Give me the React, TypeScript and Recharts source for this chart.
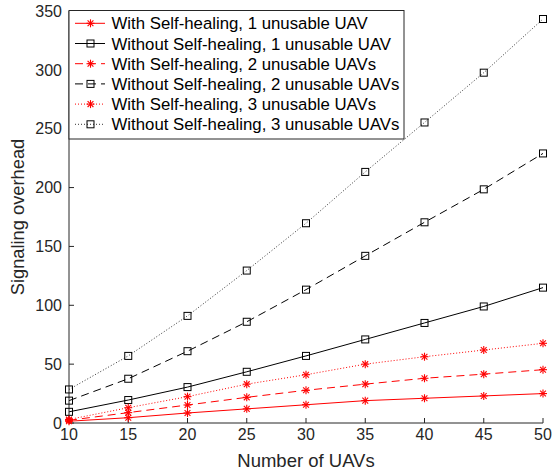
import React from "react";
import { LineChart, Line, XAxis, YAxis } from "recharts";

const uavCounts = [10, 15, 20, 25, 30, 35, 40, 45, 50];
const withHeal1 = [1.5, 4.5, 8.5, 12, 15.5, 19, 21, 23, 25];
const withoutHeal1 = [9.5, 19.5, 30.5, 43.5, 57, 71, 85, 99, 115];
const withHeal2 = [2.3, 8.8, 15.3, 21.8, 27.8, 33, 38, 41.5, 45.3];
const withoutHeal2 = [19, 37.6, 61, 86, 113.3, 142, 170.5, 198.5, 229];
const withHeal3 = [3, 13, 22.4, 33, 41, 50, 56.3, 62, 67.7];
const withoutHeal3 = [28.5, 57, 91, 129.5, 169.7, 213.3, 255.3, 297.6, 343.2];

const xTicks = [10, 15, 20, 25, 30, 35, 40, 45, 50];
const yTicks = [0, 50, 100, 150, 200, 250, 300, 350];

const data = uavCounts.map((n, i) => ({
  n,
  w1: withHeal1[i],
  wo1: withoutHeal1[i],
  w2: withHeal2[i],
  wo2: withoutHeal2[i],
  w3: withHeal3[i],
  wo3: withoutHeal3[i],
}));

const FONT = "'Liberation Sans', Arial, sans-serif";
const AXIS = "#262626";

type Kind = "star" | "square";

function Star({ cx, cy, color }: { cx: number; cy: number; color: string }) {
  const r = 4;
  const d = 2.9;
  return (
    <g stroke={color} strokeWidth={1.1}>
      <line x1={cx - r} y1={cy} x2={cx + r} y2={cy} />
      <line x1={cx} y1={cy - r} x2={cx} y2={cy + r} />
      <line x1={cx - d} y1={cy - d} x2={cx + d} y2={cy + d} />
      <line x1={cx - d} y1={cy + d} x2={cx + d} y2={cy - d} />
    </g>
  );
}

function Square({ cx, cy, color }: { cx: number; cy: number; color: string }) {
  return <rect x={cx - 3.5} y={cy - 3.5} width={7} height={7} fill="none" stroke={color} strokeWidth={1} />;
}

const makeDot = (kind: Kind, color: string) => (props: any) => {
  const { cx, cy, index } = props;
  if (cx == null || cy == null) return <g key={index} />;
  return kind === "star" ? <Star key={index} cx={cx} cy={cy} color={color} /> : <Square key={index} cx={cx} cy={cy} color={color} />;
};

const series = [
  { key: "w1", name: "With Self-healing, 1 unusable UAV", color: "#ff0000", dash: undefined, kind: "star" as Kind, width: 1 },
  { key: "wo1", name: "Without Self-healing, 1 unusable UAV", color: "#000000", dash: undefined, kind: "square" as Kind, width: 1 },
  { key: "w2", name: "With Self-healing, 2 unusable UAVs", color: "#ff0000", dash: "8 5", kind: "star" as Kind, width: 1 },
  { key: "wo2", name: "Without Self-healing, 2 unusable UAVs", color: "#000000", dash: "8 5", kind: "square" as Kind, width: 1 },
  { key: "w3", name: "With Self-healing, 3 unusable UAVs", color: "#ff0000", dash: "1 2", kind: "star" as Kind, width: 1 },
  { key: "wo3", name: "Without Self-healing, 3 unusable UAVs", color: "#000000", dash: "1 2", kind: "square" as Kind, width: 0.8 },
];

function LegendBox() {
  return (
    <svg width={337} height={131} style={{ position: "absolute", left: 68, top: 10 }}>
      <rect x={1} y={0.5} width={335} height={128.5} fill="#fff" stroke={AXIS} strokeWidth={1} />
      {series.map((s, i) => {
        const y = 13.3 + i * 20.2;
        return (
          <g key={s.key}>
            <line x1={7} y1={y} x2={37} y2={y} stroke={s.color} strokeWidth={s.width} strokeDasharray={s.dash} />
            {s.kind === "star" ? <Star cx={22.5} cy={y} color={s.color} /> : <Square cx={22.5} cy={y} color={s.color} />}
            <text x={43.5} y={y + 6} fontSize={16.8} fontFamily={FONT} fill="#000">
              {s.name}
            </text>
          </g>
        );
      })}
    </svg>
  );
}

export default function App() {
  const tickStyle = { fontSize: 16, fill: AXIS, fontFamily: FONT };
  return (
    <div style={{ position: "absolute", left: 0, top: 0, width: 558, height: 474, background: "#fff" }}>
      <LineChart width={558} height={474} data={data} margin={{ top: 11, right: 15, bottom: 0, left: 0 }}>
        <XAxis
          dataKey="n"
          type="number"
          domain={[10, 50]}
          ticks={xTicks}
          height={51}
          stroke={AXIS}
          tickSize={-5}
          tickMargin={11}
          tick={tickStyle}
          label={{ value: "Number of UAVs", position: "insideBottom", offset: 7, fontSize: 18.5, fill: AXIS, fontFamily: FONT }}
        />
        <XAxis
          xAxisId="top"
          orientation="top"
          dataKey="n"
          type="number"
          domain={[10, 50]}
          ticks={xTicks}
          height={0}
          stroke={AXIS}
          tickSize={-5}
          tick={false}
        />
        <YAxis
          type="number"
          domain={[0, 350]}
          ticks={yTicks}
          width={69}
          stroke={AXIS}
          tickSize={-5}
          tickMargin={12}
          tick={tickStyle}
          label={{ value: "Signaling overhead", angle: -90, position: "insideLeft", offset: 18, style: { textAnchor: "middle" }, fontSize: 18.3, fill: AXIS, fontFamily: FONT }}
        />
        <YAxis
          yAxisId="right"
          orientation="right"
          type="number"
          domain={[0, 350]}
          ticks={yTicks}
          width={0}
          stroke={AXIS}
          tickSize={-5}
          tick={false}
        />
        {series.map((s) => (
          <Line
            key={s.key}
            dataKey={s.key}
            name={s.name}
            type="linear"
            stroke={s.color}
            strokeWidth={s.width}
            strokeDasharray={s.dash}
            dot={makeDot(s.kind, s.color)}
            activeDot={false}
            isAnimationActive={false}
          />
        ))}
      </LineChart>
      <LegendBox />
    </div>
  );
}
